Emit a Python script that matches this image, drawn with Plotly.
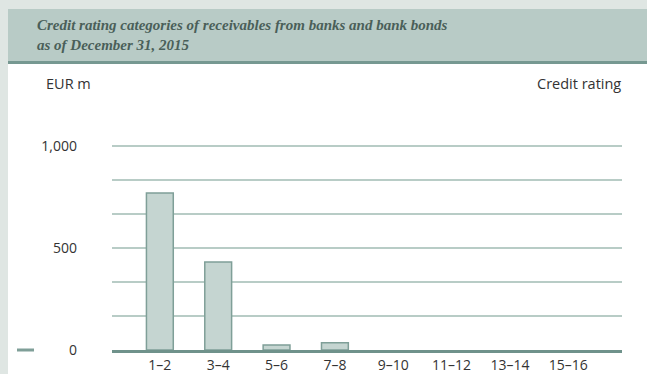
import plotly.graph_objects as go

categories = ["1–2", "3–4", "5–6", "7–8", "9–10", "11–12", "13–14", "15–16"]
values = [770, 431, 25, 35, 0, 0, 0, 0]
tick_vals = [0, 166.667, 333.333, 500, 666.667, 833.333, 1000]
tick_text = ["0", "", "", "500", "", "", "1,000"]

W, H = 647, 374
L, R, T, B = 112, 25, 144, 24
PW, PH = W - L - R, H - T - B


def px(x):
    return (x - L) / PW


def py(y):
    return (H - B - y) / PH


fig = go.Figure()
fig.add_trace(go.Bar(
    x=categories, y=values, width=0.46,
    marker=dict(color="#c5d5d1",
                line=dict(color="#7f9f98", width=[1.5 if v > 0 else 0 for v in values])),
))

fig.update_layout(
    width=W, height=H,
    margin=dict(l=L, r=R, t=T, b=B, autoexpand=False),
    paper_bgcolor="#dfe6e3",
    plot_bgcolor="white",
    showlegend=False,
    font=dict(family="Open Sans", color="#333333"),
    xaxis=dict(
        type="category", range=[-0.82, 7.92], automargin=False,
        showgrid=False, showline=True, linecolor="#6f928b", linewidth=3,
        layer="above traces",
        ticks="", tickfont=dict(size=14, family="Open Sans", color="#333"),
    ),
    yaxis=dict(
        range=[0, 1010], tickvals=tick_vals, ticktext=tick_text, automargin=False,
        showgrid=True, gridcolor="#b8ccc6", gridwidth=1.5,
        zeroline=False, showline=False, ticks="",
        ticklabelstandoff=34,
        tickfont=dict(size=14, family="Open Sans", color="#333"),
    ),
    shapes=[
        dict(type="rect", xref="paper", yref="paper", layer="below",
             x0=px(8), x1=px(W + 2), y0=py(H + 2), y1=py(64),
             fillcolor="white", line=dict(width=0)),
        dict(type="rect", xref="paper", yref="paper", layer="below",
             x0=px(8), x1=px(W + 2), y0=py(61), y1=py(9),
             fillcolor="#b8cbc6", line=dict(width=0)),
        dict(type="rect", xref="paper", yref="paper", layer="below",
             x0=px(8), x1=px(W + 2), y0=py(64), y1=py(61),
             fillcolor="#769891", line=dict(width=0)),
        dict(type="line", xref="paper", yref="paper",
             x0=px(17), x1=px(34), y0=py(350), y1=py(350),
             line=dict(color="#7f9f98", width=3)),
    ],
    annotations=[
        dict(xref="paper", yref="paper", x=px(35), y=py(35),
             xanchor="left", yanchor="middle", align="left", showarrow=False,
             text="<b><i>Credit rating categories of receivables from banks and bank bonds<br>as of December 31, 2015</i></b>",
             font=dict(family="Liberation Serif", size=15, color="#4a5f59")),
        dict(xref="paper", yref="paper", x=px(44), y=py(84),
             xanchor="left", yanchor="middle", showarrow=False,
             text="EUR m", font=dict(family="Open Sans", size=14.5, color="#333")),
        dict(xref="paper", yref="paper", x=px(623), y=py(84),
             xanchor="right", yanchor="middle", showarrow=False,
             text="Credit rating", font=dict(family="Open Sans", size=14.5, color="#333")),
    ],
)

fig.write_html("out.html", config={"displayModeBar": False},
               post_script="document.body.style.margin='0';document.body.style.overflow='hidden';")
